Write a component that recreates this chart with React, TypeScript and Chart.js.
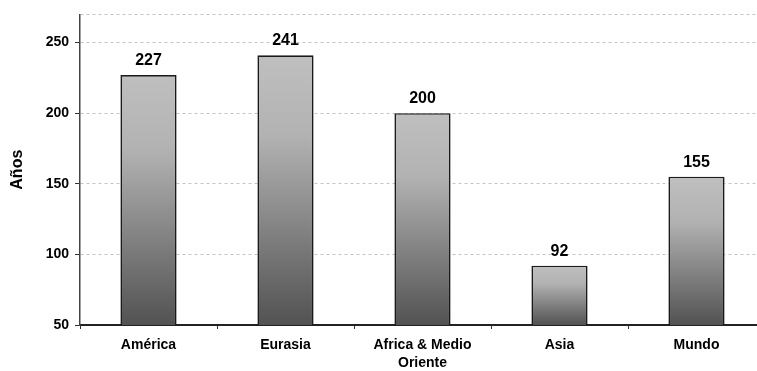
import React, { useEffect, useRef } from 'react';
import { Chart, registerables } from 'chart.js';

Chart.register(...registerables);

const regions: (string | string[])[] = ['América', 'Eurasia', ['Africa & Medio', 'Oriente'], 'Asia', 'Mundo'];
const years = [227, 241, 200, 92, 155];
const yTicks = [50, 100, 150, 200, 250];
const yMin = 50;
const yMax = 270;

const FONT = 'Arial, "Liberation Sans", sans-serif';

// Writes each bar's value above it
const valueLabels = {
  id: 'valueLabels',
  afterDatasetsDraw(chart: any) {
    const { ctx } = chart;
    const meta = chart.getDatasetMeta(0);
    ctx.save();
    ctx.font = `bold 16px ${FONT}`;
    ctx.fillStyle = '#000';
    ctx.textAlign = 'center';
    ctx.textBaseline = 'alphabetic';
    meta.data.forEach((bar: any, i: number) => {
      ctx.fillText(String(years[i]), bar.x, bar.y - 10);
    });
    ctx.restore();
  },
};

function barGradient(context: any) {
  const chart = context.chart;
  const y = chart.scales?.y;
  const value = context.raw;
  if (!y || typeof value !== 'number') return '#999';
  const top = y.getPixelForValue(value);
  const bottom = y.getPixelForValue(yMin);
  if (!Number.isFinite(top) || !Number.isFinite(bottom) || top === bottom) return '#999';
  const g = chart.ctx.createLinearGradient(0, top, 0, bottom);
  g.addColorStop(0, '#bfbfbf');
  g.addColorStop(0.3, '#b2b2b2');
  g.addColorStop(1, '#525252');
  return g;
}

export default function App() {
  const canvasRef = useRef<HTMLCanvasElement | null>(null);

  useEffect(() => {
    const canvas = canvasRef.current;
    if (!canvas) return;
    const chart = new Chart(canvas, {
      type: 'bar',
      data: {
        labels: regions,
        datasets: [
          {
            data: years,
            backgroundColor: barGradient,
            borderColor: '#1a1a1a',
            borderWidth: 1.6,
            borderSkipped: false,
            barPercentage: 0.41,
            categoryPercentage: 1,
          },
        ],
      },
      options: {
        responsive: false,
        animation: false,
        devicePixelRatio: 1,
        layout: { padding: { top: 12, right: 0, bottom: 0, left: 0 } },
        plugins: {
          legend: { display: false },
          tooltip: { enabled: false },
        },
        scales: {
          x: {
            offset: true,
            grid: {
              display: true,
              offset: true,
              drawOnChartArea: false,
              drawTicks: true,
              tickLength: 4,
              tickColor: '#333',
              tickWidth: 1,
            },
            border: { display: true, color: '#222', width: 2 },
            ticks: {
              color: '#000',
              padding: 7,
              maxRotation: 0,
              autoSkip: false,
              font: { family: FONT, size: 14, weight: 'bold', lineHeight: 1.3 },
            },
            afterFit(scale: any) {
              scale.height = 46;
            },
          },
          y: {
            min: yMin,
            max: yMax,
            afterBuildTicks(scale: any) {
              scale.ticks = [...yTicks, yMax].map((v) => ({ value: v }));
            },
            afterFit(scale: any) {
              scale.width = 80;
            },
            grid: {
              color: '#c4c4c4',
              lineWidth: 1,
              drawTicks: true,
              tickLength: 5,
              tickColor: (ctx: any) => (ctx.tick && yTicks.includes(ctx.tick.value) ? '#333' : 'rgba(0,0,0,0)'),
              tickBorderDash: [],
            },
            border: { display: true, color: '#444', width: 1.5, dash: [3, 3] },
            ticks: {
              color: '#000',
              padding: 6,
              font: { family: FONT, size: 14, weight: 'bold' },
              callback: (v: any) => (yTicks.includes(Number(v)) ? String(v) : ''),
            },
            title: {
              display: true,
              text: 'Años',
              color: '#000',
              font: { family: FONT, size: 16, weight: 'bold' },
              padding: { top: 8, bottom: 0 },
            },
          },
        },
      },
      plugins: [valueLabels],
    });
    return () => chart.destroy();
  }, []);

  return (
    <div style={{ position: 'fixed', left: 0, top: 0, width: 757, height: 371, overflow: 'hidden', background: '#fff' }}>
      <canvas ref={canvasRef} width={765} height={371} style={{ display: 'block' }} />
    </div>
  );
}
